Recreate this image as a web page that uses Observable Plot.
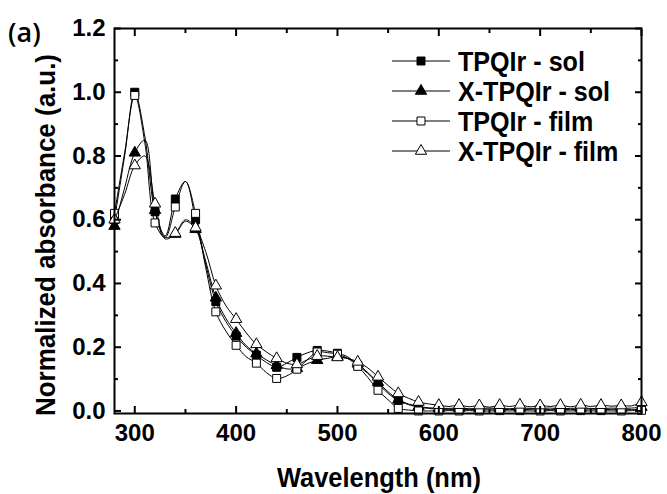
<!DOCTYPE html>
<html><head><meta charset="utf-8">
<script src="https://cdn.jsdelivr.net/npm/d3@7"></script>
<script src="https://cdn.jsdelivr.net/npm/@observablehq/plot@0.6"></script>
<style>
body{margin:0;background:#fff}
#chart{position:relative;width:667px;height:494px;background:#fff}
</style>
</head><body><div id="chart"></div>
<script>
// wavelength (nm)
const wavelengths = [280,290,300,310,320,330,340,350,360,370,380,390,400,410,420,430,440,450,460,470,480,490,500,510,520,530,540,550,560,570,580,590,600,
  610,620,630,640,650,660,670,680,690,700,710,720,730,740,750,760,770,780,790,800];
const tpqirSol = [0.60,0.80,1.00,0.86,0.625,0.55,0.665,0.72,0.60,0.46,0.343,0.28,0.235,0.20,0.175,0.152,0.137,0.15,0.168,0.182,0.19,0.188,0.181,0.17,0.143,0.118,0.086,0.055,0.033,0.02,0.012,0.008,0.005,
  0.005,0.004,0.005,0.004,0.006,0.004,0.005,0.004,0.005,0.006,0.004,0.005,0.004,0.005,0.006,0.004,0.005,0.005,0.004,0.006];
const xTpqirSol = [0.58,0.70,0.81,0.85,0.63,0.54,0.555,0.595,0.57,0.47,0.355,0.29,0.244,0.205,0.18,0.16,0.143,0.132,0.134,0.148,0.159,0.165,0.17,0.165,0.148,0.12,0.09,0.06,0.035,0.022,0.014,0.01,0.008,
  0.008,0.009,0.007,0.008,0.009,0.008,0.007,0.009,0.008,0.008,0.009,0.007,0.008,0.009,0.008,0.007,0.009,0.008,0.009,0.012];
const tpqirFilm = [0.62,0.81,0.99,0.84,0.59,0.545,0.64,0.72,0.62,0.45,0.311,0.25,0.206,0.17,0.15,0.12,0.102,0.11,0.131,0.16,0.185,0.183,0.178,0.165,0.14,0.105,0.065,0.035,0.008,0.003,0.0,0.0,0.0,
  0.001,0.0,0.001,0.0,0.0,0.001,0.0,0.001,0.0,0.0,0.001,0.0,0.0,0.001,0.0,0.001,0.0,0.0,0.001,0.002];
const xTpqirFilm = [0.60,0.68,0.77,0.80,0.65,0.545,0.558,0.60,0.575,0.50,0.393,0.33,0.288,0.245,0.209,0.185,0.165,0.15,0.146,0.16,0.172,0.172,0.168,0.165,0.154,0.135,0.107,0.08,0.055,0.04,0.028,0.022,0.018,
  0.014,0.018,0.013,0.017,0.012,0.018,0.014,0.019,0.013,0.017,0.014,0.018,0.013,0.019,0.014,0.018,0.015,0.017,0.016,0.027];

const seriesNames = ["TPQIr - sol","X-TPQIr - sol","TPQIr - film","X-TPQIr - film"];
const seriesValues = [tpqirSol, xTpqirSol, tpqirFilm, xTpqirFilm];
const seriesSymbols = ["square","triangle","square","triangle"];
const seriesFills = ["black","black","white","white"];
const markerStep = 20; // a symbol every 20 nm

const xTicks = [300,400,500,600,700,800];
const xMinorTicks = [350,450,550,650,750];
const yTicks = [0,0.2,0.4,0.6,0.8,1.0,1.2];
const yMinorTicks = [0.1,0.3,0.5,0.7,0.9,1.1];

const xTitle = "Wavelength (nm)";
const yTitle = "Normalized absorbance (a.u.)";
const panelLabel = "(a)";

const symbolR = {square: 4.5, triangle: 4.2};

const seriesData = seriesValues.map((vals, k) =>
  wavelengths.map((w, i) => ({w, v: vals[i], s: seriesNames[k]})));

const seriesMarks = seriesData.flatMap((data, k) => [
  Plot.line(data, {x: "w", y: "v", curve: "catmull-rom", stroke: "black", strokeWidth: 1}),
  Plot.dot(data.filter(d => d.w % markerStep === 0), {
    x: "w", y: "v", symbol: seriesSymbols[k], r: symbolR[seriesSymbols[k]],
    fill: seriesFills[k], stroke: "black", strokeWidth: 1
  })
]);

const tickStyle = {stroke: "black", strokeWidth: 2, tickFormat: () => "", label: null};

const chart = Plot.plot({
  width: 667, height: 494,
  marginLeft: 114, marginRight: 26, marginTop: 28, marginBottom: 81,
  x: {domain: [280, 800], label: null},
  y: {domain: [-0.008, 1.2], label: null},
  style: {fontFamily: "'Liberation Sans', Arial, sans-serif", fontWeight: "bold", fontSize: "24px", color: "black", background: "white", overflow: "visible"},
  marks: [
    ...seriesMarks,
    Plot.frame({stroke: "black", strokeWidth: 2}),
    // inward ticks
    Plot.axisX(xTicks, {anchor: "bottom", tickSize: 7, dy: -7, ...tickStyle}),
    Plot.axisX(xMinorTicks, {anchor: "bottom", tickSize: 4, dy: -4, ...tickStyle}),
    Plot.axisX(xTicks, {anchor: "top", tickSize: 7, dy: 7, ...tickStyle}),
    Plot.axisX(xMinorTicks, {anchor: "top", tickSize: 4, dy: 4, ...tickStyle}),
    Plot.axisY(yTicks, {anchor: "left", tickSize: 7, dx: 7, ...tickStyle}),
    Plot.axisY(yMinorTicks, {anchor: "left", tickSize: 4, dx: 4, ...tickStyle}),
    Plot.axisY(yTicks, {anchor: "right", tickSize: 7, dx: -7, ...tickStyle}),
    Plot.axisY(yMinorTicks, {anchor: "right", tickSize: 4, dx: -4, ...tickStyle}),
    // labels
    Plot.axisX(xTicks, {anchor: "bottom", tickSize: 0, tickPadding: 10, label: null, tickFormat: d => String(d)}),
    Plot.axisY(yTicks, {anchor: "left", tickSize: 0, tickPadding: 9, label: null, tickFormat: d => d.toFixed(1)})
  ]
});
document.getElementById("chart").appendChild(chart);

const svg = d3.select(chart);
const font = "'Liberation Sans', Arial, sans-serif";
svg.append("text").attr("transform", "translate(55,235) rotate(-90)")
  .attr("text-anchor", "middle").attr("font-family", font).attr("font-weight", "bold")
  .attr("font-size", 28).attr("textLength", 362).attr("lengthAdjust", "spacingAndGlyphs")
  .attr("fill", "black").text(yTitle);
svg.append("text").attr("x", 379).attr("y", 487)
  .attr("text-anchor", "middle").attr("font-family", font).attr("font-weight", "bold")
  .attr("font-size", 28).attr("textLength", 204).attr("lengthAdjust", "spacingAndGlyphs")
  .attr("fill", "black").text(xTitle);
svg.append("text").attr("x", 8).attr("y", 42).attr("text-anchor", "start")
  .attr("font-family", "'Open Sans', sans-serif").attr("font-weight", 600)
  .attr("font-size", 27).attr("fill", "black").text(panelLabel);

// legend
const legend = svg.append("g").attr("text-anchor", "start");
const legendX0 = 392, legendX1 = 450, legendTextX = 458, legendY0 = 61, legendDy = 30;
seriesNames.forEach((name, k) => {
  const y = legendY0 + k * legendDy;
  const cx = (legendX0 + legendX1) / 2;
  legend.append("line").attr("x1", legendX0).attr("x2", legendX1).attr("y1", y).attr("y2", y)
    .attr("stroke", "black").attr("stroke-width", 1);
  const r = symbolR[seriesSymbols[k]];
  const type = seriesSymbols[k] === "square" ? d3.symbolSquare : d3.symbolTriangle;
  legend.append("path").attr("d", d3.symbol(type, Math.PI * r * r)())
    .attr("transform", `translate(${cx},${y})`)
    .attr("fill", seriesFills[k]).attr("stroke", "black").attr("stroke-width", 1);
  legend.append("text").attr("transform", `translate(${legendTextX},${y}) scale(0.93,1)`)
    .attr("dy", "0.36em").attr("text-anchor", "start")
    .attr("font-family", font).attr("font-weight", "bold").attr("font-size", 27)
    .attr("fill", "black").text(name);
});
</script>
</body></html>
